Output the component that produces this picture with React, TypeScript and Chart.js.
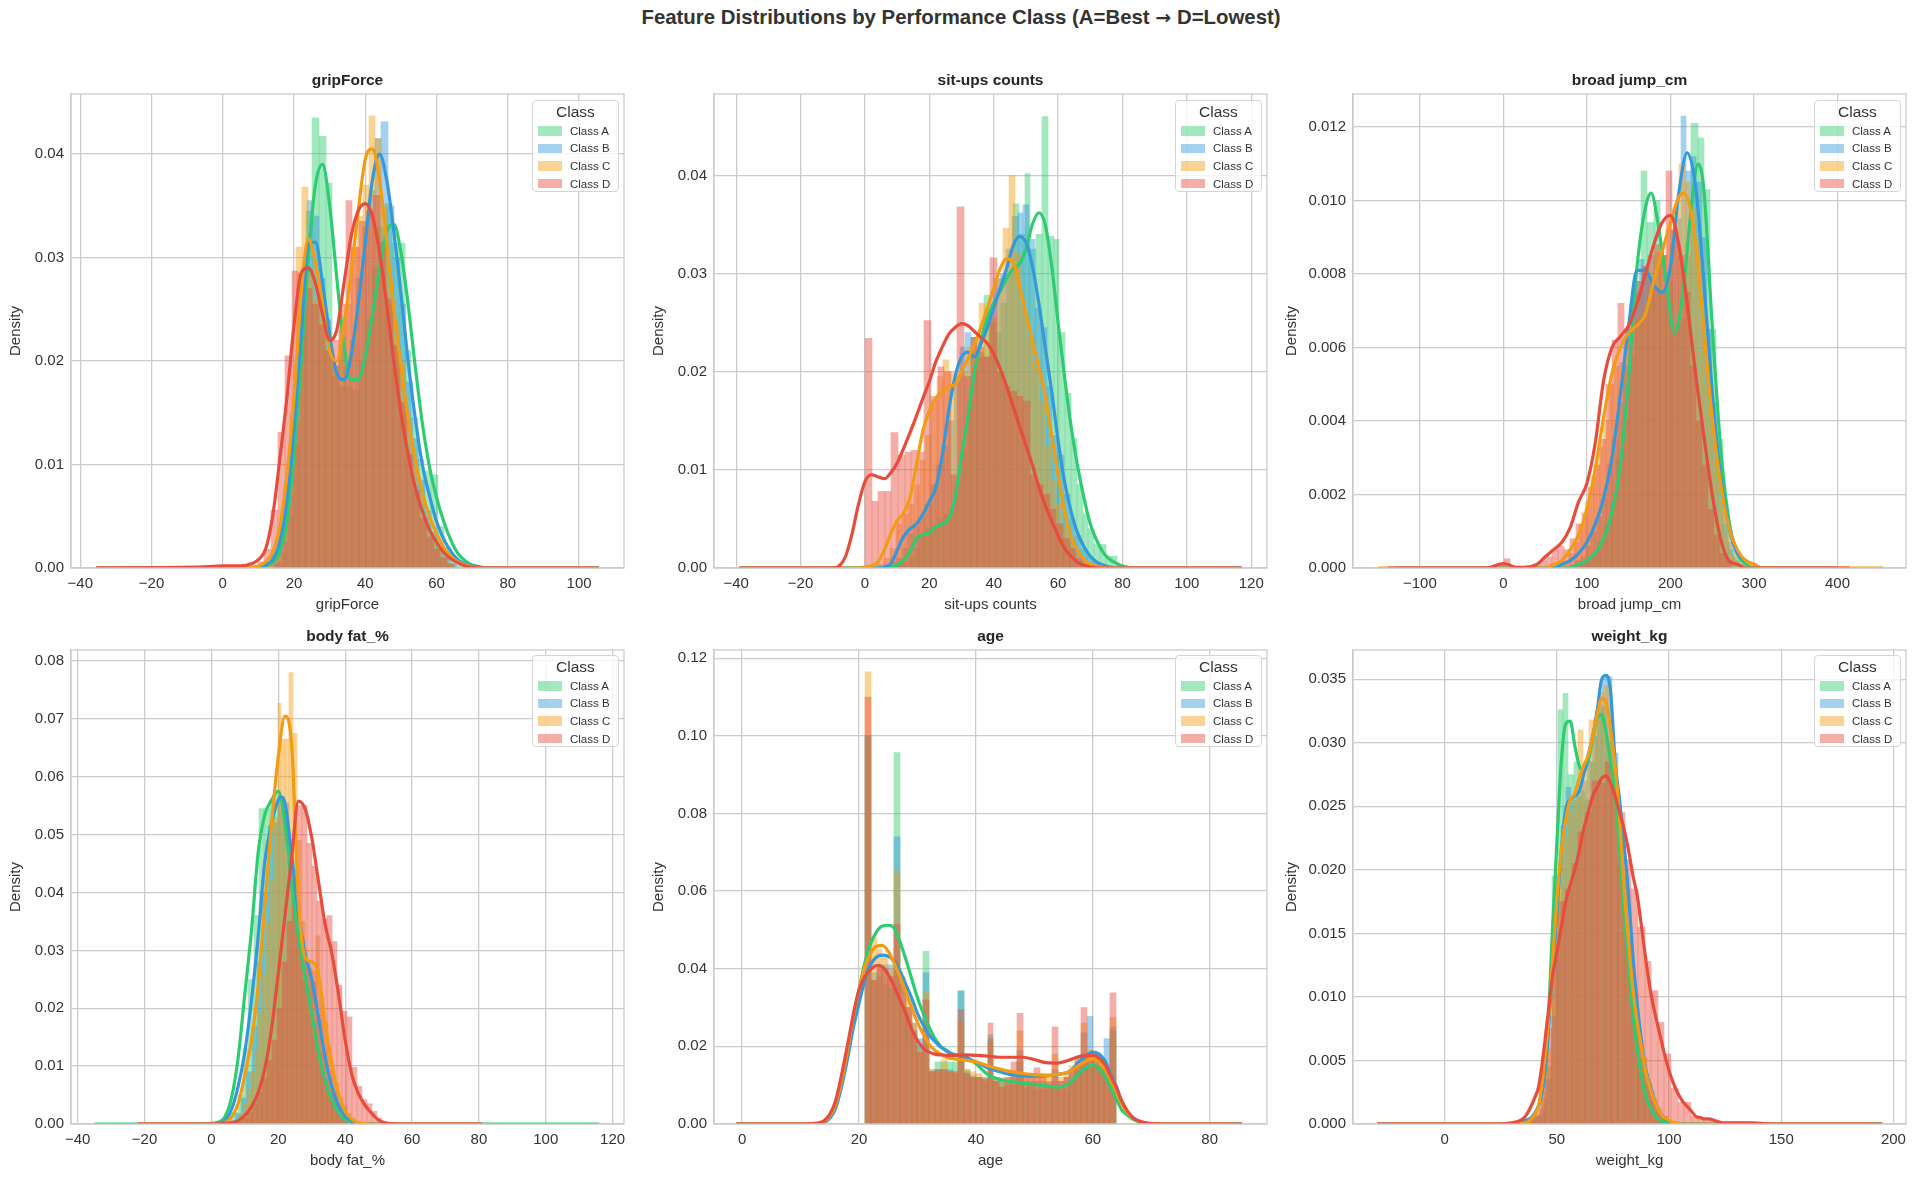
import React, { useEffect, useRef } from 'react';
import Chart from 'chart.js/auto';

type Pair = [number, number];

const FONT = '"Liberation Sans", Arial, sans-serif';

const classNames = ['Class A', 'Class B', 'Class C', 'Class D'];
const lineColors = ['#2ecc71', '#3498db', '#f39c12', '#e74c3c'];
const barColors = ['rgba(46,204,113,0.45)', 'rgba(52,152,219,0.45)', 'rgba(243,156,18,0.45)', 'rgba(231,76,60,0.45)'];

// gripForce: [bin left edge, density]
const gripHistA: Pair[] = [[14.05,.0004],[15.9,.0015],[17.75,.005],[19.6,.012],[21.45,.024],[23.3,.0345],[25.15,.0435],[27,.0417],[28.85,.0372],[30.7,.0195],[32.55,.0215],[34.4,.0175],[36.25,.0172],[38.1,.02],[39.95,.024],[41.8,.029],[43.65,.033],[45.5,.0352],[47.35,.0314],[49.2,.0314],[51.05,.021],[52.9,.0145],[54.75,.0105],[56.6,.0094],[58.45,.009],[60.3,.004],[62.15,.002],[64,.0008],[65.85,.0003]];
const gripHistB: Pair[] = [[14.75,.0006],[16.5,.0025],[18.25,.007],[20,.014],[21.75,.026],[23.5,.0355],[25.25,.034],[27,.028],[28.75,.024],[30.5,.0185],[32.25,.0175],[34,.0195],[35.75,.022],[37.5,.028],[39.25,.033],[41,.0365],[42.75,.0415],[44.5,.0431],[46.25,.035],[48,.03],[49.75,.0255],[51.5,.018],[53.25,.0125],[55,.0085],[56.75,.0055],[58.5,.0035],[60.25,.002],[62,.001],[63.75,.0004]];
const gripHistC: Pair[] = [[12.1,.0004],[13.8,.0012],[15.5,.004],[17.2,.008],[18.9,.015],[20.6,.031],[22.3,.0368],[24,.029],[25.7,.026],[27.4,.0245],[29.1,.021],[30.8,.0195],[32.5,.023],[34.2,.0255],[35.9,.031],[37.6,.034],[39.3,.037],[41,.0437],[42.7,.0415],[44.4,.035],[46.1,.028],[47.8,.0235],[49.5,.02],[51.2,.0145],[52.9,.01],[54.6,.007],[56.3,.0045],[58,.003],[59.7,.002],[61.4,.001],[63.1,.0004]];
const gripHistD: Pair[] = [[9.8,.0006],[11.7,.0018],[13.6,.0056],[15.5,.0131],[17.4,.0205],[19.3,.0287],[21.2,.0285],[23.1,.027],[25,.0255],[26.9,.0235],[28.8,.021],[30.7,.022],[32.6,.0255],[34.5,.0355],[36.4,.031],[38.3,.0335],[40.2,.0345],[42.1,.036],[44,.0315],[45.9,.026],[47.8,.0215],[49.7,.016],[51.6,.011],[53.5,.0075],[55.4,.0048],[57.3,.003],[59.2,.0018],[61.1,.001],[63,.0004]];
const gripKdeA: Pair[] = [[8,0],[10,.0001],[12,.0002],[14,.0005],[16,.0015],[18,.0045],[20,.011],[22,.02],[24,.03],[26,.037],[28,.039],[30,.035],[32,.028],[34,.0215],[36,.0182],[38,.0182],[40,.0205],[42,.0245],[44,.029],[46,.0325],[48,.0332],[50,.0305],[52,.0255],[54,.0195],[56,.014],[58,.0098],[60,.0068],[62,.0045],[64,.0027],[66,.0014],[68,.0007],[70,.0003],[75,0]];
const gripKdeB: Pair[] = [[8,0],[10,.0001],[12,.0003],[14,.0008],[16,.0025],[18,.0065],[20,.0135],[22,.0225],[24,.0312],[26,.0315],[28,.0275],[30,.0225],[32,.0188],[34,.0182],[36,.0205],[38,.0255],[40,.0315],[42,.0375],[44,.04],[46,.0375],[48,.0325],[50,.0265],[52,.02],[54,.0145],[56,.01],[58,.007],[60,.0045],[62,.0028],[64,.0016],[66,.0008],[68,.0004],[70,.0002],[75,0]];
const gripKdeC: Pair[] = [[5,0],[8,.0001],[10,.0002],[12,.0006],[14,.0015],[16,.004],[18,.009],[20,.0165],[22,.0265],[24,.0318],[26,.0295],[28,.0255],[30,.021],[32,.02],[34,.0235],[36,.0285],[38,.0345],[40,.0395],[42,.0405],[44,.0375],[46,.0315],[48,.025],[50,.0195],[52,.0145],[54,.0105],[56,.0073],[58,.005],[60,.0033],[62,.002],[64,.0011],[66,.0006],[68,.0003],[72,0]];
const gripKdeD: Pair[] = [[-5,.0001],[0,.0002],[5,.0002],[8,.0004],[10,.0008],[12,.0018],[14,.005],[16,.0105],[18,.0165],[20,.0235],[22,.0285],[24,.029],[26,.0275],[28,.0245],[30,.022],[32,.023],[34,.0275],[36,.032],[38,.0345],[40,.0352],[42,.034],[44,.0305],[46,.0255],[48,.02],[50,.015],[52,.011],[54,.0078],[56,.0055],[58,.0037],[60,.0025],[62,.0015],[64,.0009],[66,.0005],[68,.0002],[72,0]];

// sit-ups counts
const situpHistA: Pair[] = [[10,.0005],[11.8,.0005],[13.6,.001],[15.4,.002],[17.2,.0035],[19,.004],[20.8,.0045],[22.6,.005],[24.4,.0055],[26.2,.006],[28,.0085],[29.8,.012],[31.6,.017],[33.4,.02],[35.2,.022],[37,.0278],[38.8,.025],[40.6,.024],[42.4,.027],[44.2,.03],[46,.0371],[47.8,.034],[49.6,.0402],[51.4,.0325],[53.2,.034],[55,.046],[56.8,.0338],[58.6,.0335],[60.4,.024],[62.2,.0178],[64,.0132],[65.8,.0085],[67.6,.0055],[69.4,.004],[71.2,.0024],[73,.0024],[74.8,.0012],[76.6,.0012],[78.4,.0003]];
const situpHistB: Pair[] = [[6,.0003],[7.8,.0006],[9.6,.001],[11.4,.002],[13.2,.0035],[15,.0042],[16.8,.0052],[18.6,.0065],[20.4,.0085],[22.2,.0105],[24,.0125],[25.8,.015],[27.6,.019],[29.4,.0225],[31.2,.024],[33,.0235],[34.8,.0215],[36.6,.0215],[38.4,.0255],[40.2,.0295],[42,.03],[43.8,.0325],[45.6,.0358],[47.4,.0362],[49.2,.037],[51,.0335],[52.8,.0265],[54.6,.0245],[56.4,.0185],[58.2,.0135],[60,.0115],[61.8,.0075],[63.6,.005],[65.4,.0033],[67.2,.002],[69,.0012],[70.8,.0006],[72.6,.0003]];
const situpHistC: Pair[] = [[4,.0004],[5.85,.001],[7.7,.002],[9.55,.0045],[11.4,.0055],[13.25,.0065],[15.1,.0085],[16.95,.011],[18.8,.0135],[20.65,.017],[22.5,.0195],[24.35,.0212],[26.2,.02],[28.05,.0195],[29.9,.02],[31.75,.0225],[33.6,.0235],[35.45,.027],[37.3,.0265],[39.15,.0255],[41,.0295],[42.85,.0346],[44.7,.04],[46.55,.032],[48.4,.0265],[50.25,.0235],[52.1,.021],[53.95,.017],[55.8,.0125],[57.65,.009],[59.5,.0065],[61.35,.0042],[63.2,.003],[65.05,.0015],[66.9,.0006]];
const situpHistD: Pair[] = [[0,.0234],[2.05,.0068],[4.1,.0078],[6.15,.0078],[8.2,.0138],[10.25,.0115],[12.3,.0118],[14.35,.012],[16.4,.0118],[18.45,.0252],[20.5,.0175],[22.55,.0205],[24.6,.02],[26.65,.0095],[28.7,.0368],[30.75,.0195],[32.8,.0235],[34.85,.0225],[36.9,.0215],[38.95,.0316],[41,.02],[43.05,.0185],[45.1,.018],[47.15,.0175],[49.2,.017],[51.25,.0095],[53.3,.0085],[55.35,.0075],[57.4,.006],[59.45,.0045],[61.5,.003],[63.55,.002],[65.6,.001],[67.65,.0004]];
const situpKdeA: Pair[] = [[6,0],[8,.0001],[10,.0003],[12,.0008],[14,.0017],[16,.003],[18,.0034],[20,.0036],[22,.0042],[24,.0045],[26,.005],[28,.0072],[30,.0115],[32,.0155],[34,.02],[36,.0232],[38,.0255],[40,.027],[42,.0282],[44,.0295],[46,.0305],[48,.031],[50,.0325],[52,.035],[54,.0362],[56,.035],[58,.0308],[60,.025],[62,.0195],[64,.0145],[66,.0105],[68,.0072],[70,.0045],[72,.0028],[74,.0016],[76,.0009],[78,.0005],[80,.0002],[84,0]];
const situpKdeB: Pair[] = [[4,0],[6,.0001],[8,.0004],[10,.0018],[12,.0032],[14,.004],[16,.0045],[18,.0055],[20,.0068],[22,.0082],[24,.0115],[26,.016],[28,.0195],[30,.0215],[32,.022],[34,.0215],[36,.0228],[38,.0245],[40,.0265],[42,.0285],[44,.0305],[46,.0328],[48,.0338],[50,.0332],[52,.0308],[54,.027],[56,.0225],[58,.018],[60,.013],[62,.0088],[64,.0058],[66,.0036],[68,.0022],[70,.0012],[72,.0006],[74,.0003],[76,.0001],[80,0]];
const situpKdeC: Pair[] = [[-2,0],[0,.0001],[2,.0002],[4,.0006],[6,.0018],[8,.0035],[10,.0048],[12,.0056],[14,.0072],[16,.0105],[18,.014],[20,.016],[22,.0173],[24,.018],[26,.0185],[28,.0187],[30,.02],[32,.0213],[34,.0228],[36,.0245],[38,.0265],[40,.0285],[42,.0305],[44,.0315],[46,.0312],[48,.0288],[50,.026],[52,.0232],[54,.0205],[56,.0175],[58,.0135],[60,.0095],[62,.0058],[64,.0032],[66,.0018],[68,.0009],[70,.0004],[72,.0002],[76,0]];
const situpKdeD: Pair[] = [[-10,0],[-8,.0002],[-6,.0012],[-4,.0035],[-2,.0065],[0,.0088],[2,.0095],[4,.0093],[6,.0091],[8,.0097],[10,.0107],[12,.0122],[14,.0138],[16,.0155],[18,.0173],[20,.019],[22,.021],[24,.0225],[26,.0238],[28,.0245],[30,.0249],[32,.0247],[34,.0241],[36,.0235],[38,.0229],[40,.0218],[42,.0203],[44,.0185],[46,.0165],[48,.0145],[50,.0125],[52,.0105],[54,.0083],[56,.0064],[58,.0048],[60,.0033],[62,.002],[64,.0012],[66,.0006],[68,.0003],[70,.0001],[74,0]];

// broad jump_cm
const jumpHistA: Pair[] = [[90,.0001],[97.5,.0002],[105,.0004],[112.5,.0007],[120,.0012],[127.5,.0018],[135,.003],[142.5,.004],[150,.0058],[157.5,.0075],[165,.0108],[172.5,.0094],[180,.01],[187.5,.0085],[195,.0078],[202.5,.0065],[210,.0068],[217.5,.0085],[225,.0121],[232.5,.0117],[240,.0103],[247.5,.0065],[255,.0035],[262.5,.0012],[270,.0005],[277.5,.0002]];
const jumpHistB: Pair[] = [[80,.0001],[86.3,.0002],[92.6,.0003],[98.9,.0006],[105.2,.001],[111.5,.0014],[117.8,.0019],[124.1,.0028],[130.4,.0035],[136.7,.0045],[143,.0055],[149.3,.0065],[155.6,.0078],[161.9,.0084],[168.2,.0082],[174.5,.0078],[180.8,.0076],[187.1,.0075],[193.4,.0075],[199.7,.0088],[206,.0095],[212.3,.0123],[218.6,.0108],[224.9,.0112],[231.2,.0105],[237.5,.009],[243.8,.0065],[250.1,.0045],[256.4,.0028],[262.7,.0015],[269,.0007],[275.3,.0003],[281.6,.0001]];
const jumpHistC: Pair[] = [[70,.0002],[77,.0004],[84,.0007],[91,.0012],[98,.0018],[105,.0025],[112,.0033],[119,.004],[126,.005],[133,.0055],[140,.0056],[147,.0062],[154,.0067],[161,.0068],[168,.007],[175,.0076],[182,.0086],[189,.0085],[196,.0092],[203,.0098],[210,.011],[217,.0105],[224,.0098],[231,.0088],[238,.0068],[245,.0048],[252,.003],[259,.0018],[266,.0009],[273,.0004],[280,.0002]];
const jumpHistD: Pair[] = [[-7,.0001],[.2,.00025],[7.4,.00005],[14.6,.00002],[21.8,.00002],[29,.00005],[36.2,.0001],[43.4,.0002],[50.6,.0003],[57.8,.0005],[65,.0006],[72.2,.0005],[79.4,.0008],[86.6,.0012],[93.8,.0015],[101,.0022],[108.2,.0028],[115.4,.0035],[122.6,.005],[129.8,.0062],[137,.0072],[144.2,.0065],[151.4,.0072],[158.6,.0078],[165.8,.0082],[173,.0085],[180.2,.0088],[187.4,.0085],[194.6,.0108],[201.8,.0092],[209,.0085],[216.2,.0075],[223.4,.0055],[230.6,.004],[237.8,.0028],[245,.0016],[252.2,.0009],[259.4,.0004],[266.6,.0002]];
const jumpKdeA: Pair[] = [[80,0],[90,.0001],[100,.0002],[110,.0004],[120,.0008],[130,.0015],[140,.0028],[150,.0052],[160,.0082],[170,.0098],[177,.0102],[185,.0094],[195,.0078],[205,.0064],[215,.0075],[225,.0098],[233,.011],[240,.0103],[250,.0066],[260,.0033],[270,.0013],[280,.0004],[290,.0001],[300,0]];
const jumpKdeB: Pair[] = [[60,0],[70,.0001],[80,.0002],[90,.0004],[100,.0007],[110,.0012],[120,.0019],[130,.003],[140,.0047],[150,.0066],[160,.0081],[170,.0081],[180,.0077],[190,.0075],[200,.0082],[210,.0102],[220,.0113],[230,.0104],[240,.0078],[250,.0048],[260,.0025],[270,.0011],[280,.0004],[290,.0002],[300,.0001],[310,0]];
const jumpKdeC: Pair[] = [[50,0],[60,.0001],[70,.0002],[80,.0005],[90,.0009],[100,.0016],[110,.0027],[120,.0041],[130,.0053],[140,.006],[150,.0064],[160,.0066],[170,.0069],[180,.0078],[190,.0086],[200,.0094],[210,.0101],[216,.0102],[230,.0089],[240,.0065],[250,.0041],[260,.0023],[270,.0011],[280,.0005],[290,.0002],[300,.0001],[310,0]];
const jumpKdeD: Pair[] = [[-20,0],[-5,.0001],[0,.00012],[5,.0001],[15,.00002],[25,.00002],[40,.0001],[50,.0003],[60,.0005],[70,.0007],[80,.0011],[90,.0018],[100,.0023],[110,.0034],[120,.0051],[130,.006],[140,.0063],[150,.0066],[160,.0072],[170,.008],[180,.0088],[190,.0094],[200,.0096],[210,.0088],[220,.0072],[230,.0053],[240,.0036],[250,.002],[260,.0008],[270,.0002],[280,.0001],[290,0]];

// body fat_%
const fatHistA: Pair[] = [[3,.0002],[4.6,.0006],[6.2,.002],[7.8,.005],[9.4,.013],[11,.025],[12.6,.036],[14.2,.0545],[15.8,.0545],[17.4,.0555],[19,.057],[20.6,.054],[22.2,.046],[23.8,.042],[25.4,.033],[27,.025],[28.6,.019],[30.2,.015],[31.8,.01],[33.4,.007],[35,.0045],[36.6,.0028],[38.2,.0015],[39.8,.0006],[41.4,.0002]];
const fatHistB: Pair[] = [[4,.0002],[5.6,.0006],[7.2,.0018],[8.8,.0045],[10.4,.009],[12,.017],[13.6,.028],[15.2,.04],[16.8,.0515],[18.4,.052],[20,.0565],[21.6,.0555],[23.2,.046],[24.8,.038],[26.4,.032],[28,.028],[29.6,.0245],[31.2,.018],[32.8,.0125],[34.4,.008],[36,.0055],[37.6,.0032],[39.2,.0015],[40.8,.0005],[42.4,.0002]];
const fatHistC: Pair[] = [[6,.0002],[7.15,.0006],[8.3,.0018],[9.45,.0035],[10.6,.006],[11.75,.009],[12.9,.013],[14.05,.019],[15.2,.026],[16.35,.0345],[17.5,.042],[18.65,.053],[19.8,.0727],[20.95,.0665],[22.1,.0665],[23.25,.078],[24.4,.0675],[25.55,.049],[26.7,.035],[27.85,.028],[29,.027],[30.15,.0265],[31.3,.0325],[32.45,.022],[33.6,.0175],[34.75,.013],[35.9,.0095],[37.05,.007],[38.2,.0045],[39.35,.003],[40.5,.0018],[41.65,.001],[42.8,.0005],[43.95,.0002]];
const fatHistD: Pair[] = [[6,.0001],[7.5,.0004],[9,.001],[10.5,.002],[12,.0035],[13.5,.0055],[15,.008],[16.5,.011],[18,.0145],[19.5,.02],[21,.028],[22.5,.035],[24,.044],[25.5,.055],[27,.055],[28.5,.0485],[30,.0445],[31.5,.0385],[33,.0355],[34.5,.036],[36,.0315],[37.5,.024],[39,.0195],[40.5,.0185],[42,.0098],[43.5,.0065],[45,.0042],[46.5,.0035],[48,.0022],[49.5,.001],[51,.0003]];
const fatKdeA: Pair[] = [[-5,0],[0,.0001],[2,.0003],[4,.0012],[6,.0045],[8,.0115],[10,.0225],[12,.0335],[14,.047],[16,.0535],[18,.056],[20,.0575],[22,.052],[24,.0415],[26,.0325],[28,.0255],[30,.019],[32,.0125],[34,.0075],[36,.0042],[38,.002],[40,.0008],[42,.0003],[44,.0001],[48,0]];
const fatKdeB: Pair[] = [[0,0],[2,.0001],[4,.0005],[6,.0025],[8,.0065],[10,.0125],[12,.0215],[14,.0325],[16,.0455],[18,.052],[20,.056],[21,.0565],[22,.0555],[24,.0465],[26,.0365],[28,.0295],[30,.025],[32,.0185],[34,.0115],[36,.0065],[38,.0032],[40,.0014],[42,.0005],[44,.0001],[48,0]];
const fatKdeC: Pair[] = [[2,0],[4,.0002],[6,.0012],[8,.0035],[10,.0085],[12,.0145],[14,.024],[16,.038],[18,.052],[20,.0635],[22,.0705],[24,.0655],[26,.039],[28,.0288],[30,.028],[32,.0258],[34,.0175],[36,.0105],[38,.0053],[40,.0022],[42,.0008],[44,.0002],[48,0]];
const fatKdeD: Pair[] = [[2,0],[4,.0001],[6,.0002],[8,.0006],[10,.0015],[12,.003],[14,.0055],[16,.0096],[18,.0165],[20,.026],[22,.036],[24,.046],[26,.0558],[28,.0545],[30,.0495],[32,.042],[34,.0345],[36,.0295],[38,.0225],[40,.0145],[42,.0085],[44,.0052],[46,.0032],[48,.0018],[50,.0007],[52,.0002],[56,0]];

// age: bins are one year wide from 21 to 64
const ageHistA: Pair[] = [[21,.1],[22,.037],[23,.038],[24,.036],[25,.035],[26,.0957],[27,.03],[28,.026],[29,.023],[30,.02],[31,.0445],[32,.014],[33,.016],[34,.016],[35,.016],[36,.016],[37,.0343],[38,.014],[39,.012],[40,.012],[41,.011],[42,.023],[43,.011],[44,.011],[45,.01],[46,.01],[47,.016],[48,.009],[49,.0095],[50,.009],[51,.009],[52,.009],[53,.011],[54,.009],[55,.009],[56,.011],[57,.014],[58,.018],[59,.016],[60,.015],[61,.013],[62,.0125],[63,.024]];
const ageHistB: Pair[] = [[21,.1],[22,.039],[23,.041],[24,.041],[25,.041],[26,.074],[27,.036],[28,.03],[29,.026],[30,.022],[31,.039],[32,.0135],[33,.014],[34,.014],[35,.014],[36,.013],[37,.0343],[38,.0135],[39,.0125],[40,.012],[41,.012],[42,.022],[43,.012],[44,.011],[45,.011],[46,.012],[47,.019],[48,.011],[49,.011],[50,.011],[51,.011],[52,.0105],[53,.014],[54,.011],[55,.012],[56,.014],[57,.017],[58,.0235],[59,.0277],[60,.018],[61,.017],[62,.022],[63,.025]];
const ageHistC: Pair[] = [[21,.1165],[22,.048],[23,.045],[24,.043],[25,.04],[26,.0652],[27,.038],[28,.032],[29,.026],[30,.019],[31,.034],[32,.014],[33,.0135],[34,.0165],[35,.0135],[36,.0135],[37,.0265],[38,.014],[39,.0135],[40,.013],[41,.012],[42,.021],[43,.012],[44,.012],[45,.012],[46,.0135],[47,.024],[48,.012],[49,.012],[50,.012],[51,.012],[52,.012],[53,.018],[54,.012],[55,.0135],[56,.015],[57,.0175],[58,.026],[59,.019],[60,.017],[61,.015],[62,.013],[63,.0275]];
const ageHistD: Pair[] = [[21,.11],[22,.037],[23,.04],[24,.04],[25,.038],[26,.0515],[27,.036],[28,.03],[29,.024],[30,.0185],[31,.032],[32,.0135],[33,.014],[34,.014],[35,.0135],[36,.0135],[37,.0295],[38,.013],[39,.012],[40,.012],[41,.0115],[42,.026],[43,.011],[44,.0095],[45,.012],[46,.016],[47,.0285],[48,.012],[49,.013],[50,.0145],[51,.013],[52,.011],[53,.025],[54,.011],[55,.012],[56,.014],[57,.016],[58,.03],[59,.018],[60,.017],[61,.015],[62,.014],[63,.0338]];
const ageKdeA: Pair[] = [[12,0],[14,.0004],[15,.0015],[16,.0045],[17,.0105],[18,.018],[19,.0265],[20,.0345],[21,.0415],[22,.0465],[23,.0495],[24,.051],[25,.0512],[26,.0505],[27,.047],[28,.0425],[29,.0375],[30,.0325],[31,.0285],[32,.025],[33,.022],[34,.02],[35,.019],[36,.018],[38,.0175],[40,.0155],[42,.0128],[44,.0115],[46,.011],[48,.0105],[50,.0102],[52,.0098],[54,.0095],[56,.0105],[58,.0135],[60,.0152],[62,.0125],[63,.0095],[64,.0065],[65,.0035],[66,.0022],[67,.0011],[68,.0005],[69,.0002],[70,.0001],[72,0]];
const ageKdeB: Pair[] = [[12,0],[14,.0004],[15,.0015],[16,.004],[17,.0095],[18,.0165],[19,.0245],[20,.031],[21,.037],[22,.041],[23,.043],[24,.0435],[25,.0432],[26,.042],[27,.0395],[28,.036],[29,.0325],[30,.0285],[31,.0255],[32,.023],[33,.0212],[34,.0198],[35,.0188],[36,.018],[38,.0172],[40,.016],[42,.0145],[44,.0135],[46,.0127],[48,.0124],[50,.0123],[52,.0124],[54,.0128],[56,.0135],[58,.0165],[60,.0185],[62,.0165],[63,.013],[64,.0098],[65,.0055],[66,.003],[67,.0015],[68,.0007],[69,.0003],[70,.0001],[72,0]];
const ageKdeC: Pair[] = [[12,0],[14,.0005],[15,.002],[16,.005],[17,.011],[18,.0185],[19,.0275],[20,.0345],[21,.0405],[22,.044],[23,.0458],[24,.046],[25,.0445],[26,.0415],[27,.038],[28,.034],[29,.03],[30,.0262],[31,.0232],[32,.0205],[33,.019],[34,.018],[35,.0172],[36,.0168],[38,.0165],[40,.016],[42,.015],[44,.0142],[46,.0135],[48,.013],[50,.0127],[52,.0125],[54,.0128],[56,.0135],[58,.0155],[60,.0168],[62,.0145],[63,.0115],[64,.0085],[65,.005],[66,.0028],[67,.0014],[68,.0006],[69,.0002],[70,.0001],[72,0]];
const ageKdeD: Pair[] = [[10,0],[12,.0001],[14,.0008],[15,.0025],[16,.006],[17,.0125],[18,.02],[19,.028],[20,.0345],[21,.038],[22,.0398],[23,.0408],[24,.0405],[25,.0385],[26,.0355],[27,.032],[28,.0285],[29,.0245],[30,.0215],[31,.0195],[32,.0185],[33,.018],[34,.0178],[35,.0177],[36,.0177],[38,.0178],[40,.0177],[42,.0175],[44,.0172],[46,.0172],[48,.0172],[50,.0166],[52,.0158],[54,.0157],[56,.0165],[58,.0175],[60,.0177],[62,.0155],[63,.0125],[64,.0095],[65,.0058],[66,.0032],[67,.0015],[68,.0007],[69,.0003],[70,.0001],[72,0]];

// weight_kg
const weightHistA: Pair[] = [[36,.0002],[38.4,.0004],[40.8,.0006],[43.2,.002],[45.6,.0045],[48,.0195],[50.4,.0326],[52.8,.0339],[55.2,.0275],[57.6,.0285],[60,.0262],[62.4,.0255],[64.8,.0285],[67.2,.0325],[69.6,.0328],[72,.03],[74.4,.0265],[76.8,.0205],[79.2,.016],[81.6,.012],[84,.008],[86.4,.0052],[88.8,.0032],[91.2,.0018],[93.6,.0009],[96,.0004],[98.4,.0002]];
const weightHistB: Pair[] = [[38,.0003],[40.3,.0006],[42.6,.0012],[44.9,.0035],[47.2,.0085],[49.5,.015],[51.8,.0235],[54.1,.0265],[56.4,.0255],[58.7,.0258],[61,.027],[63.3,.0285],[65.6,.0305],[67.9,.033],[70.2,.0352],[72.5,.0352],[74.8,.0292],[77.1,.024],[79.4,.0195],[81.7,.014],[84,.0098],[86.3,.0065],[88.6,.004],[90.9,.0026],[93.2,.0014],[95.5,.0007],[97.8,.0003],[100.1,.0001]];
const weightHistC: Pair[] = [[36,.0002],[38.35,.0006],[40.7,.001],[43.05,.0025],[45.4,.006],[47.75,.012],[50.1,.019],[52.45,.0225],[54.8,.0245],[57.15,.0255],[59.5,.031],[61.85,.028],[64.2,.0318],[66.55,.032],[68.9,.034],[71.25,.0345],[73.6,.0305],[75.95,.0245],[78.3,.019],[80.65,.0145],[83,.0105],[85.35,.0075],[87.7,.0052],[90.05,.0032],[92.4,.002],[94.75,.0012],[97.1,.0006],[99.45,.0002]];
const weightHistD: Pair[] = [[36,.0003],[38.95,.0008],[41.9,.0035],[44.85,.0075],[47.8,.0135],[50.75,.0175],[53.7,.0185],[56.65,.0205],[59.6,.023],[62.55,.0245],[65.5,.027],[68.45,.0268],[71.4,.0285],[74.35,.0265],[77.3,.0245],[80.25,.0208],[83.2,.0185],[86.15,.0155],[89.1,.0128],[92.05,.0105],[95,.008],[97.95,.0055],[100.9,.0028],[103.85,.0017],[106.8,.0017],[109.75,.0006],[112.7,.0005],[115.65,.0004],[118.6,.0002],[121.55,.0001]];
const weightKdeA: Pair[] = [[30,0],[34,.0001],[36,.0002],[38,.0004],[40,.0007],[42,.0015],[44,.0033],[46,.0075],[48,.015],[50,.022],[52,.0285],[54,.0315],[56,.0317],[58,.0298],[60,.0282],[62,.0278],[64,.0285],[66,.0303],[68,.032],[70,.0322],[72,.0308],[74,.0285],[76,.026],[78,.0215],[80,.0165],[82,.0125],[84,.0085],[86,.0058],[88,.0035],[90,.002],[92,.0012],[94,.0006],[96,.0003],[98,.0002],[100,.0001],[105,0]];
const weightKdeB: Pair[] = [[30,0],[36,.0003],[38,.0004],[40,.0008],[42,.0015],[44,.003],[46,.0065],[48,.012],[50,.0165],[52,.0215],[54,.0248],[56,.0255],[58,.0258],[60,.0262],[62,.0275],[64,.029],[66,.0305],[68,.0325],[70,.035],[72,.0353],[74,.034],[76,.0285],[78,.0255],[80,.022],[82,.018],[84,.013],[86,.0092],[88,.0062],[90,.004],[92,.0028],[94,.0016],[96,.0009],[98,.0005],[100,.0002],[102,.0001],[108,0]];
const weightKdeC: Pair[] = [[30,0],[36,.0001],[38,.0003],[40,.0007],[42,.0015],[44,.004],[46,.0075],[48,.0125],[50,.0175],[52,.0215],[54,.024],[56,.0255],[58,.026],[60,.0272],[62,.0282],[64,.029],[66,.0305],[68,.0322],[70,.0335],[72,.0332],[74,.031],[76,.0282],[78,.024],[80,.0185],[82,.0142],[84,.0105],[86,.0078],[88,.0058],[90,.0038],[92,.0026],[94,.0016],[96,.0009],[98,.0005],[100,.0003],[102,.0001],[108,0]];
const weightKdeD: Pair[] = [[20,0],[30,.0001],[34,.0003],[36,.0006],[38,.0012],[40,.002],[42,.003],[44,.0055],[46,.0085],[48,.0115],[50,.0135],[52,.0155],[54,.0175],[56,.0188],[58,.02],[60,.0215],[62,.0232],[64,.0245],[66,.0258],[68,.0265],[70,.0272],[72,.0274],[74,.0268],[76,.0258],[78,.0245],[80,.0232],[82,.0215],[84,.0195],[86,.0178],[88,.0152],[90,.0125],[92,.0102],[94,.0085],[96,.007],[98,.0055],[100,.0042],[102,.0032],[104,.0024],[106,.0018],[108,.0014],[110,.001],[112,.0006],[114,.0005],[116,.0004],[118,.0004],[120,.0003],[124,.0001],[130,.0001],[137,.0001],[145,0]];

const gripXTicks = [-40, -20, 0, 20, 40, 60, 80, 100];
const situpXTicks = [-40, -20, 0, 20, 40, 60, 80, 100, 120];
const jumpXTicks = [-100, 0, 100, 200, 300, 400];
const fatXTicks = [-40, -20, 0, 20, 40, 60, 80, 100, 120];
const ageXTicks = [0, 20, 40, 60, 80];
const weightXTicks = [0, 50, 100, 150, 200];

const gripYTicks = [0, 0.01, 0.02, 0.03, 0.04];
const situpYTicks = [0, 0.01, 0.02, 0.03, 0.04];
const jumpYTicks = [0, 0.002, 0.004, 0.006, 0.008, 0.01, 0.012];
const fatYTicks = [0, 0.01, 0.02, 0.03, 0.04, 0.05, 0.06, 0.07, 0.08];
const ageYTicks = [0, 0.02, 0.04, 0.06, 0.08, 0.1, 0.12];
const weightYTicks = [0, 0.005, 0.01, 0.015, 0.02, 0.025, 0.03, 0.035];

// where each class's density curve starts and ends on the x axis
const gripExtent = [[-35.5, 105.5], [-35.5, 105.5], [-35.5, 105.5], [-35.5, 105.5]];
const situpExtent = [[-39, 117], [-39, 117], [-39, 117], [-39, 117]];
const jumpExtent = [[-130, 400], [-130, 400], [-150, 455], [-138, 415]];
const fatExtent = [[-35, 116], [-22, 81], [-22, 81], [-22, 81]];
const ageExtent = [[-1, 85.5], [-1, 85.5], [-1, 85.5], [-1, 85.5]];
const weightExtent = [[-30, 195], [-30, 195], [-30, 195], [-30, 195]];

const panels = [
  { title: 'gripForce', hist: [gripHistA, gripHistB, gripHistC, gripHistD], kde: [gripKdeA, gripKdeB, gripKdeC, gripKdeD], extent: gripExtent, xMin: -42.6, xMax: 112.6, yMax: 0.0458, xTicks: gripXTicks, yTicks: gripYTicks, digits: 2, gutter: 64 },
  { title: 'sit-ups counts', hist: [situpHistA, situpHistB, situpHistC, situpHistD], kde: [situpKdeA, situpKdeB, situpKdeC, situpKdeD], extent: situpExtent, xMin: -46.9, xMax: 124.9, yMax: 0.0483, xTicks: situpXTicks, yTicks: situpYTicks, digits: 2, gutter: 64 },
  { title: 'broad jump_cm', hist: [jumpHistA, jumpHistB, jumpHistC, jumpHistD], kde: [jumpKdeA, jumpKdeB, jumpKdeC, jumpKdeD], extent: jumpExtent, xMin: -180, xMax: 482, yMax: 0.0129, xTicks: jumpXTicks, yTicks: jumpYTicks, digits: 3, gutter: 70 },
  { title: 'body fat_%', hist: [fatHistA, fatHistB, fatHistC, fatHistD], kde: [fatKdeA, fatKdeB, fatKdeC, fatKdeD], extent: fatExtent, xMin: -42, xMax: 123.4, yMax: 0.0819, xTicks: fatXTicks, yTicks: fatYTicks, digits: 2, gutter: 64 },
  { title: 'age', hist: [ageHistA, ageHistB, ageHistC, ageHistD], kde: [ageKdeA, ageKdeB, ageKdeC, ageKdeD], extent: ageExtent, xMin: -4.8, xMax: 89.8, yMax: 0.1221, xTicks: ageXTicks, yTicks: ageYTicks, digits: 2, gutter: 64 },
  { title: 'weight_kg', hist: [weightHistA, weightHistB, weightHistC, weightHistD], kde: [weightKdeA, weightKdeB, weightKdeC, weightKdeD], extent: weightExtent, xMin: -40.8, xMax: 205.6, yMax: 0.0373, xTicks: weightXTicks, yTicks: weightYTicks, digits: 3, gutter: 70 },
];

const plotLefts = [71, 714, 1353];
const plotTops = [94, 650];
const PLOT_W = 553;
const PLOT_H = 474;
const TOP_GAP = 34;
const BOTTOM_GAP = 46;
const RIGHT_GAP = 14;

// matplotlib draws all four spines, Chart.js only two
const framePlugin = {
  id: 'frame',
  afterDatasetsDraw(chart: Chart) {
    const { ctx, chartArea: a } = chart;
    ctx.save();
    ctx.strokeStyle = '#cccccc';
    ctx.lineWidth = 1.3;
    ctx.strokeRect(a.left, a.top, a.right - a.left, a.bottom - a.top);
    ctx.restore();
  },
};

// snap bar edges to whole pixels so neighbouring translucent bins leave no light seams
const snapBarsPlugin = {
  id: 'snapBars',
  afterDatasetUpdate(chart: Chart, args: any) {
    const meta = chart.getDatasetMeta(args.index);
    if (meta.type !== 'bar') return;
    meta.data.forEach((bar: any) => {
      const l = Math.round(bar.x - bar.width / 2);
      const r = Math.round(bar.x + bar.width / 2);
      bar.x = (l + r) / 2;
      bar.width = r - l;
    });
  },
};

const Panel: React.FC<{ index: number }> = ({ index }) => {
  const canvasRef = useRef<HTMLCanvasElement | null>(null);
  const panel = panels[index];
  const row = Math.floor(index / 3);
  const left = plotLefts[index % 3];
  const top = plotTops[row];

  useEffect(() => {
    if (!canvasRef.current) return;

    const pxPerUnit = PLOT_W / (panel.xMax - panel.xMin);

    const bars = panel.hist.map((bins, c) => {
      const width = bins[1][0] - bins[0][0];
      return {
        type: 'bar' as const,
        label: classNames[c],
        data: bins.map(([edge, y]) => ({ x: edge + width / 2, y })),
        xAxisID: 'x',
        yAxisID: 'y',
        stack: 'hist',
        backgroundColor: barColors[c],
        borderWidth: 0,
        barThickness: width * pxPerUnit,
        order: 8 - c,
      };
    });

    const lines = panel.kde.map((points, c) => ({
      type: 'line' as const,
      label: classNames[c] + ' density',
      data: [[panel.extent[c][0], 0], ...points, [panel.extent[c][1], 0]].map(([x, y]) => ({ x, y })),
      xAxisID: 'x',
      yAxisID: 'y',
      borderColor: lineColors[c],
      borderWidth: 3.2,
      pointRadius: 0,
      fill: false,
      cubicInterpolationMode: 'monotone' as const,
      order: 4 - c,
    }));

    const chart = new Chart(canvasRef.current, {
      type: 'bar',
      data: { datasets: [...bars, ...lines] as any },
      plugins: [snapBarsPlugin, framePlugin],
      options: {
        animation: false,
        responsive: false,
        devicePixelRatio: 1,
        layout: { padding: { right: RIGHT_GAP } },
        plugins: {
          legend: { display: false },
          tooltip: { enabled: false },
          title: {
            display: true,
            fullSize: false,
            text: panel.title,
            color: '#262626',
            font: { family: FONT, size: 15.5, weight: 'bold', lineHeight: 1.2 },
            padding: { top: 11.4, bottom: 4 },
          },
        },
        scales: {
          x: {
            type: 'linear',
            min: panel.xMin,
            max: panel.xMax,
            offset: false,
            afterBuildTicks: (axis: any) => {
              axis.ticks = panel.xTicks.map((value) => ({ value }));
            },
            afterFit: (axis: any) => {
              axis.height = BOTTOM_GAP;
            },
            grid: { color: '#cccccc', lineWidth: 1.3, drawTicks: false, offset: false },
            border: { color: '#cccccc', width: 1.3 },
            ticks: {
              color: '#333333',
              padding: 7,
              maxRotation: 0,
              autoSkip: false,
              font: { family: FONT, size: 15 },
              callback: (value: any) => String(value).replace('-', '\u2212'),
            },
            title: {
              display: true,
              text: panel.title,
              color: '#333333',
              padding: 0,
              font: { family: FONT, size: 15, lineHeight: 1.2 },
            },
          },
          y: {
            type: 'linear',
            min: 0,
            max: panel.yMax,
            stacked: false,
            afterBuildTicks: (axis: any) => {
              axis.ticks = panel.yTicks.map((value) => ({ value }));
            },
            afterFit: (axis: any) => {
              axis.width = panel.gutter;
            },
            grid: { color: '#cccccc', lineWidth: 1.3, drawTicks: false },
            border: { color: '#cccccc', width: 1.3 },
            ticks: {
              color: '#333333',
              padding: 7,
              autoSkip: false,
              font: { family: FONT, size: 15 },
              callback: (value: any) => Number(value).toFixed(panel.digits),
            },
            title: {
              display: true,
              text: 'Density',
              color: '#333333',
              padding: 0,
              font: { family: FONT, size: 15, lineHeight: 1.2 },
            },
          },
        } as any,
      },
    });

    return () => {
      chart.destroy();
    };
  }, [index]);

  return (
    <>
      <canvas
        ref={canvasRef}
        width={panel.gutter + PLOT_W + RIGHT_GAP}
        height={TOP_GAP + PLOT_H + BOTTOM_GAP}
        style={{ position: 'absolute', left: left - panel.gutter, top: top - TOP_GAP }}
      />
      <div
        style={{
          position: 'absolute',
          left: left + PLOT_W - 92,
          top: top + 6 - row,
          width: 87,
          height: 92,
          boxSizing: 'border-box',
          background: 'rgba(255,255,255,0.8)',
          border: '1px solid #d5d5d5',
          borderRadius: 4,
          fontFamily: FONT,
          color: '#333333',
        }}
      >
        <div style={{ textAlign: 'center', fontSize: 15.5, lineHeight: '20px', marginTop: 1 }}>Class</div>
        {classNames.map((name, c) => (
          <div key={name} style={{ display: 'flex', alignItems: 'center', height: 17.6, fontSize: 11.5 }}>
            <span style={{ width: 24, height: 9.5, marginLeft: 5, marginRight: 8, background: barColors[c] }} />
            {name}
          </div>
        ))}
      </div>
    </>
  );
};

const App: React.FC = () => (
  <div
    style={{
      position: 'absolute',
      left: 0,
      top: 0,
      width: 1920,
      height: 1177,
      background: '#ffffff',
      overflow: 'hidden',
      filter: 'blur(0.6px)',
    }}
  >
    <div
      style={{
        position: 'absolute',
        left: 0,
        top: 6,
        width: 1922,
        textAlign: 'center',
        fontFamily: FONT,
        fontWeight: 'bold',
        fontSize: 20.4,
        lineHeight: '23px',
        color: '#333333',
      }}
    >
      Feature Distributions by Performance Class (A=Best <span style={{ fontFamily: '"DejaVu Sans"', fontSize: 19 }}>→</span> D=Lowest)
    </div>
    {panels.map((panel, i) => (
      <Panel key={panel.title} index={i} />
    ))}
  </div>
);

export default App;
